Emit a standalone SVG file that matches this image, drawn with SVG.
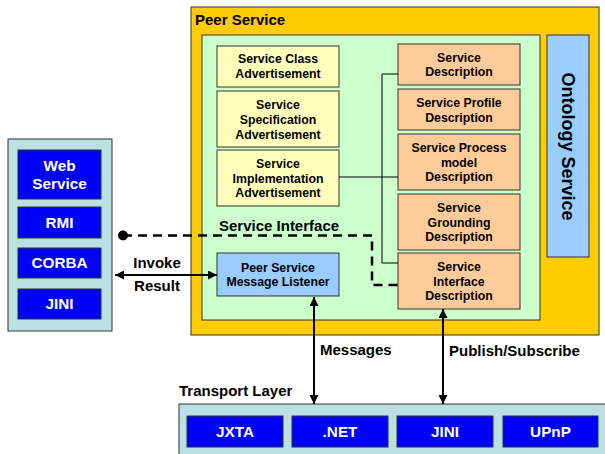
<svg xmlns="http://www.w3.org/2000/svg" width="605" height="454" viewBox="0 0 605 454">
<defs>
<marker id="ah" viewBox="0 0 10 10" refX="10" refY="5" markerWidth="9" markerHeight="9" markerUnits="userSpaceOnUse" orient="auto-start-reverse"><path d="M0,0 L10,5 L0,10 z" fill="#000"/></marker>
<style>
text{font-family:"Liberation Sans",Arial,sans-serif;font-weight:bold;fill:#000}
.box{stroke:#333;stroke-width:1}
.y{fill:#ffffbb}
.o{fill:#ffcc99}
.b{fill:#0000ff}
.bt{fill:#fff;font-size:15.3px;text-anchor:middle}
.t{font-size:12.3px;text-anchor:middle}
.lb{font-size:15px}
.ln{stroke:#000;stroke-width:1;fill:none}
.arr{stroke:#000;stroke-width:2;fill:none}
</style>
</defs>
<rect width="605" height="454" fill="#fff"/>
<g id="peer-service">
<rect x="191" y="7" width="408" height="328" fill="#ffcc00" stroke="#333"/>
<text class="lb" x="195" y="25">Peer Service</text>
</g>
<g id="service-interface">
<rect x="202" y="35" width="338" height="285" fill="#ccffcc" stroke="#333"/>
<text class="lb" x="219" y="231">Service Interface</text>
</g>
<g id="ontology">
<rect x="547" y="35" width="42" height="222" fill="#99ccff" stroke="#333"/>
<text x="0" y="0" font-size="18" text-anchor="middle" transform="translate(562,146.5) rotate(90)">Ontology Service</text>
</g>
<g id="sca"><rect class="box y" x="217" y="46" width="122" height="41"/><text class="t" x="278" y="63">Service Class</text><text class="t" x="278" y="78">Advertisement</text></g>
<g id="ssa"><rect class="box y" x="217" y="91" width="122" height="56"/><text class="t" x="278" y="109">Service</text><text class="t" x="278" y="124">Specification</text><text class="t" x="278" y="139">Advertisement</text></g>
<g id="sia"><rect class="box y" x="217" y="150" width="122" height="56"/><text class="t" x="278" y="168">Service</text><text class="t" x="278" y="183">Implementation</text><text class="t" x="278" y="197">Advertisement</text></g>
<g id="sd"><rect class="box o" x="398" y="44" width="122" height="41"/><text class="t" x="459" y="62">Service</text><text class="t" x="459" y="76">Description</text></g>
<g id="spd"><rect class="box o" x="398" y="89" width="122" height="41"/><text class="t" x="459" y="107">Service Profile</text><text class="t" x="459" y="122">Description</text></g>
<g id="spmd"><rect class="box o" x="398" y="134" width="122" height="56"/><text class="t" x="459" y="152">Service Process</text><text class="t" x="459" y="167">model</text><text class="t" x="459" y="181">Description</text></g>
<g id="sgd"><rect class="box o" x="398" y="194" width="122" height="56"/><text class="t" x="459" y="212">Service</text><text class="t" x="459" y="227">Grounding</text><text class="t" x="459" y="241">Description</text></g>
<g id="sid"><rect class="box o" x="398" y="253" width="122" height="56"/><text class="t" x="459" y="271">Service</text><text class="t" x="459" y="286">Interface</text><text class="t" x="459" y="300">Description</text></g>
<g id="listener"><rect class="box" fill="#99ccff" x="217" y="253" width="122" height="43"/><text class="t" x="278" y="272">Peer Service</text><text class="t" x="278" y="286">Message Listener</text></g>
<g id="client">
<rect x="8" y="139" width="104" height="192" fill="#bbe0e3" stroke="#333"/>
<rect class="box b" x="18" y="150" width="83" height="49"/><text class="bt" x="59.5" y="171">Web</text><text class="bt" x="59.5" y="189">Service</text>
<rect class="box b" x="18" y="207" width="83" height="31"/><text class="bt" x="59.5" y="228">RMI</text>
<rect class="box b" x="18" y="248" width="83" height="30"/><text class="bt" x="59.5" y="268">CORBA</text>
<rect class="box b" x="18" y="289" width="83" height="30"/><text class="bt" x="59.5" y="309">JINI</text>
</g>
<g id="transport">
<text class="lb" x="179" y="396">Transport Layer</text>
<rect x="179" y="404" width="430" height="55" fill="#bbe0e3" stroke="#333"/>
<rect class="box b" x="187" y="416" width="96" height="31"/><text class="bt" x="235" y="437">JXTA</text>
<rect class="box b" x="292" y="416" width="96" height="31"/><text class="bt" x="340" y="437">.NET</text>
<rect class="box b" x="397" y="416" width="96" height="31"/><text class="bt" x="445" y="437">JINI</text>
<rect class="box b" x="503" y="416" width="95" height="31"/><text class="bt" x="550.5" y="437">UPnP</text>
</g>
<g id="connectors">
<path class="ln" d="M398,74 H382 V263 H398"/>
<path class="ln" d="M339,177 H398"/>
<circle cx="123" cy="235.5" r="5" fill="#000"/>
<path d="M123,235.5 H372 V285 H398" stroke="#000" stroke-width="2.5" fill="none" stroke-dasharray="9,6"/>
<path class="arr" d="M115,275 H217" marker-start="url(#ah)" marker-end="url(#ah)"/>
<text class="lb" x="157" y="268" text-anchor="middle">Invoke</text>
<text class="lb" x="157" y="291" text-anchor="middle">Result</text>
<path class="arr" d="M314,297 V404" marker-start="url(#ah)" marker-end="url(#ah)"/>
<path class="arr" d="M443,309 V404" marker-start="url(#ah)" marker-end="url(#ah)"/>
<text class="lb" x="320" y="355">Messages</text>
<text class="lb" x="449" y="356">Publish/Subscribe</text>
</g>
</svg>
